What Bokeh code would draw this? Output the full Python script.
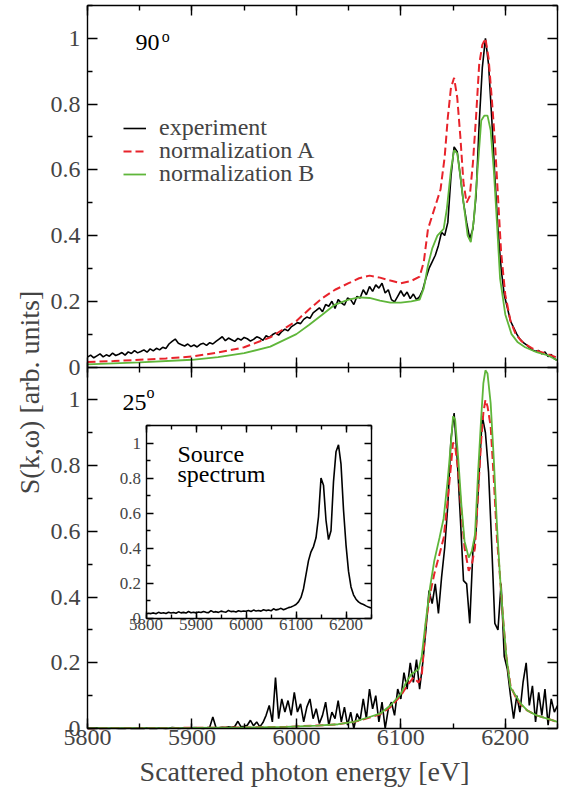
import math
from bokeh.plotting import figure
from bokeh.models import (Range1d, LinearAxis, FixedTicker, SingleIntervalTicker,
                          Legend, LegendItem, Label)
from bokeh.embed import file_html
from bokeh.resources import INLINE

FONT = "Liberation Serif"

# ---------------- data ----------------
# experiment sampling grid (eV)
exp_x = list(range(5800, 6251, 3))

top_exp = [
    0.030, 0.036, 0.028, 0.034, 0.040, 0.031, 0.037, 0.033, 0.042, 0.035, 0.039, 0.044, 0.036, 0.046, 0.041, 0.050, 0.043,
    0.047, 0.052, 0.045, 0.055, 0.049, 0.057, 0.052, 0.060, 0.056, 0.070, 0.078, 0.085, 0.072, 0.068,
    0.064, 0.070, 0.062, 0.067, 0.061, 0.069, 0.072, 0.066, 0.074, 0.070, 0.078, 0.085, 0.092, 0.080, 0.088, 0.083, 0.078, 0.087, 0.082, 0.090,
    0.086, 0.079, 0.084, 0.092, 0.088, 0.081, 0.095, 0.090, 0.098, 0.104, 0.097, 0.108, 0.115, 0.110, 0.122, 0.128, 0.135,
    0.132, 0.145, 0.152, 0.148, 0.165, 0.172, 0.180, 0.168, 0.190, 0.185, 0.200, 0.178, 0.205, 0.195, 0.188, 0.210,
    0.205, 0.190, 0.215, 0.210, 0.235, 0.220, 0.245, 0.230, 0.250, 0.240, 0.255, 0.225, 0.235, 0.205, 0.198, 0.215, 0.232,
    0.215, 0.228, 0.208, 0.222, 0.205, 0.214, 0.235, 0.270, 0.300, 0.320, 0.340, 0.370, 0.410, 0.400, 0.440, 0.580,
    0.670, 0.655, 0.580, 0.500, 0.440, 0.390, 0.420, 0.520, 0.740, 0.910, 1.000, 0.920, 0.760, 0.580, 0.420, 0.300, 0.220,
    0.180, 0.140, 0.120, 0.100, 0.085, 0.075, 0.068, 0.060, 0.052, 0.048, 0.050, 0.040, 0.046, 0.032, 0.038, 0.025, 0.020,
]

bot_exp = [
    0.0, 0.001, 0.0, 0.002, 0.0, 0.001, 0.0, 0.0, 0.002, 0.001, 0.0, 0.001, 0.0, 0.002, 0.0, 0.001, 0.0,
    0.001, 0.0, 0.002, 0.0, 0.001, 0.0, 0.002, 0.001, 0.0, 0.001, 0.003, 0.002, 0.0, 0.001,
    0.002, 0.0, 0.001, 0.003, 0.002, 0.001, 0.0, 0.002, 0.004, 0.035, 0.003, 0.002, 0.004, 0.003, 0.005, 0.004, 0.006, 0.022, 0.005, 0.007,
    0.010, 0.025, 0.008, 0.020, 0.005, 0.018, 0.040, 0.070, 0.020, 0.155, 0.030, 0.090, 0.050, 0.085, 0.040, 0.110, 0.050,
    0.075, 0.020, 0.065, 0.090, 0.030, 0.060, 0.015, 0.040, 0.080, 0.010, 0.050, 0.030, 0.085, 0.020, 0.065, 0.010,
    0.050, 0.0, 0.045, 0.025, 0.090, 0.030, 0.120, 0.060, 0.100, 0.020, 0.080, 0.0, 0.060, 0.080, 0.040, 0.120, 0.090,
    0.170, 0.120, 0.200, 0.140, 0.210, 0.120, 0.200, 0.300, 0.420, 0.380, 0.440, 0.350, 0.460, 0.550, 0.680, 0.880,
    0.960, 0.820, 0.640, 0.450, 0.440, 0.320, 0.540, 0.600, 0.780, 0.950, 0.900, 0.780, 0.560, 0.320, 0.300, 0.440, 0.220,
    0.180, 0.100, 0.030, 0.100, 0.050, 0.140, 0.200, 0.070, 0.130, 0.020, 0.110, 0.040, 0.120, 0.010, 0.090, 0.050, 0.070,
]

# 90 deg, normalization A
top_a_x = [5800, 5825, 5850, 5875, 5900, 5925, 5950, 5975, 6000, 6012, 6025, 6037, 6050, 6060, 6070, 6080,
           6090, 6100, 6110, 6118, 6122, 6126, 6130, 6134, 6138, 6142, 6145, 6148, 6151, 6154, 6157, 6160,
           6163, 6166, 6169, 6172, 6175, 6178, 6181, 6184, 6187, 6190, 6193, 6196, 6200, 6205, 6210, 6215,
           6220, 6225, 6230, 6240, 6250]
top_a_y = [0.015, 0.018, 0.022, 0.026, 0.032, 0.044, 0.060, 0.090, 0.140, 0.175, 0.210, 0.235, 0.255, 0.270, 0.278, 0.272,
           0.263, 0.255, 0.262, 0.275, 0.320, 0.420, 0.460, 0.500, 0.540, 0.640, 0.760, 0.850, 0.880, 0.820, 0.700, 0.560,
           0.500, 0.520, 0.620, 0.760, 0.920, 0.980, 1.000, 0.940, 0.820, 0.690, 0.520, 0.350, 0.220, 0.140, 0.100, 0.080,
           0.068, 0.058, 0.050, 0.040, 0.028]

# 90 deg, normalization B
top_b_x = [5800, 5850, 5900, 5925, 5950, 5975, 6000, 6012, 6025, 6037, 6050, 6060, 6070, 6080, 6090, 6100,
           6110, 6118, 6122, 6126, 6130, 6135, 6141, 6144, 6148, 6151, 6154, 6157, 6160, 6164, 6167, 6170,
           6173, 6177, 6180, 6183, 6186, 6189, 6192, 6195, 6200, 6206, 6212, 6219, 6230, 6241, 6250]
top_b_y = [0.008, 0.014, 0.022, 0.030, 0.042, 0.062, 0.100, 0.128, 0.160, 0.190, 0.205, 0.212, 0.210, 0.202, 0.196, 0.196,
           0.200, 0.205, 0.240, 0.310, 0.360, 0.400, 0.420, 0.480, 0.600, 0.660, 0.650, 0.580, 0.500, 0.400, 0.380, 0.450,
           0.580, 0.750, 0.765, 0.765, 0.720, 0.600, 0.440, 0.270, 0.160, 0.100, 0.075, 0.060, 0.045, 0.035, 0.020]

# 25 deg, normalization A
bot_a_x = [5800, 5900, 5950, 5990, 6020, 6040, 6055, 6070, 6080, 6090, 6100, 6106, 6112, 6117, 6120, 6124,
           6128, 6132, 6137, 6141, 6145, 6148, 6150, 6152, 6155, 6158, 6161, 6165, 6168, 6171, 6174, 6177,
           6179, 6181, 6183, 6186, 6189, 6192, 6195, 6198, 6201, 6205, 6210, 6215, 6221, 6230, 6240, 6250]
bot_a_y = [0.001, 0.002, 0.003, 0.005, 0.009, 0.013, 0.020, 0.033, 0.043, 0.065, 0.100, 0.130, 0.155, 0.140, 0.160, 0.320,
           0.410, 0.470, 0.530, 0.580, 0.700, 0.800, 0.870, 0.860, 0.780, 0.660, 0.550, 0.480, 0.500, 0.550, 0.720, 0.880,
           0.960, 1.000, 0.980, 0.920, 0.760, 0.580, 0.460, 0.330, 0.220, 0.130, 0.095, 0.072, 0.055, 0.040, 0.030, 0.020]

# 25 deg, normalization B
bot_b_x = [5800, 5900, 5950, 5990, 6020, 6040, 6055, 6070, 6080, 6090, 6100, 6105, 6110, 6117, 6120, 6124,
           6128, 6132, 6137, 6141, 6145, 6148, 6150, 6152, 6155, 6158, 6161, 6165, 6168, 6171, 6174, 6177,
           6179, 6181, 6183, 6186, 6189, 6192, 6195, 6198, 6201, 6205, 6210, 6215, 6221, 6230, 6240, 6250]
bot_b_y = [0.001, 0.002, 0.003, 0.005, 0.009, 0.013, 0.020, 0.035, 0.045, 0.070, 0.105, 0.140, 0.165, 0.180, 0.220, 0.330,
           0.430, 0.510, 0.580, 0.640, 0.760, 0.870, 0.950, 0.940, 0.820, 0.680, 0.570, 0.520, 0.540, 0.590, 0.780, 0.950,
           1.050, 1.090, 1.080, 0.990, 0.820, 0.620, 0.460, 0.330, 0.220, 0.125, 0.100, 0.075, 0.055, 0.040, 0.030, 0.020]

# inset: source spectrum
src_x = list(range(5800, 6251, 5))
src_y = [
    0.025, 0.030, 0.028, 0.032, 0.027, 0.035, 0.030, 0.033, 0.029, 0.036, 0.031, 0.034, 0.030, 0.038, 0.032, 0.035, 0.031, 0.040, 0.033, 0.036,
    0.032, 0.037, 0.034, 0.040, 0.035, 0.033, 0.045, 0.036, 0.039, 0.035, 0.042, 0.038, 0.036, 0.046, 0.039, 0.041, 0.037, 0.044, 0.040, 0.043,
    0.041, 0.045, 0.040, 0.048, 0.043, 0.046, 0.042, 0.050, 0.045, 0.048, 0.044, 0.055, 0.049, 0.052, 0.058, 0.050, 0.056, 0.062, 0.066, 0.072,
    0.080, 0.095, 0.120, 0.170, 0.250, 0.330, 0.380, 0.410, 0.460, 0.580, 0.800, 0.760, 0.560, 0.450, 0.500, 0.780, 0.950, 0.990, 0.880, 0.620,
    0.420, 0.270, 0.180, 0.135, 0.110, 0.095, 0.085, 0.080, 0.072, 0.065, 0.060,
]

y_major = [0.0, 0.2, 0.4, 0.6, 0.8, 1.0]
y_labels = ["0", "0.2", "0.4", "0.6", "0.8", "1"]
y_minor = [0.1, 0.3, 0.5, 0.7, 0.9]
legend_labels = ["experiment", "normalization A", "normalization B"]

BLACK = "#000000"
RED = "#e8232b"
GREEN = "#5fb63a"

# ---------------- figure ----------------
# The plot frame covers the whole canvas; the panels' frames are drawn by axes
# placed with fixed_location, so that every text lies inside the frame.
p = figure(width=562, height=791, output_backend="svg", toolbar_location=None,
           x_range=Range1d(5716.702, 6254.787), y_range=Range1d(-0.19170, 2.21522),
           x_axis_location=None, y_axis_location=None, min_border=0,
           min_border_left=0, min_border_right=0, min_border_top=0, min_border_bottom=0)
p.outline_line_color = None
p.grid.visible = False
p.background_fill_color = "white"
p.border_fill_color = "white"

p.extra_y_ranges = {"top": Range1d(-1.29170, 1.11522), "iy": Range1d(-0.98604, 3.52237)}
p.extra_x_ranges = {"ix": Range1d(5509, 6633)}

XB = (5800, 6250)
# main y ticks: bottom panel 0..1, top panel offset by 1.1 on the shared scale
ticks = [round(t, 4) for t in y_major + [v + 1.1 for v in y_major]]
minors = [round(v, 4) for v in y_minor + [m + 1.1 for m in y_minor] + [2.2]]
overrides = {t: lab for t, lab in zip(ticks, y_labels + y_labels)}
yticker = FixedTicker(ticks=ticks, minor_ticks=minors)
xticker = SingleIntervalTicker(interval=100, num_minor_ticks=2)


def style(ax, size="24px", tin=10, mtin=5, tout=0, mtout=0, lw=1.4, labels=True, standoff=5):
    ax.axis_line_width = lw
    ax.major_tick_line_width = lw
    ax.minor_tick_line_width = lw
    ax.major_tick_in = tin
    ax.major_tick_out = tout
    ax.minor_tick_in = mtin
    ax.minor_tick_out = mtout
    ax.major_label_text_font = FONT
    ax.major_label_text_font_size = size if labels else "0px"
    ax.major_label_standoff = standoff
    ax.axis_line_color = "black"
    ax.major_tick_line_color = "black"
    ax.minor_tick_line_color = "black"
    return ax


p.add_layout(style(LinearAxis(ticker=yticker, major_label_overrides=overrides,
                              fixed_location=5800, bounds=(0, 2.2)), standoff=7), "left")
p.add_layout(style(LinearAxis(ticker=yticker, fixed_location=6250, bounds=(0, 2.2)),
                   labels=False), "right")
p.add_layout(style(LinearAxis(ticker=xticker, fixed_location=0, bounds=XB), standoff=1), "below")
p.add_layout(style(LinearAxis(ticker=xticker, fixed_location=2.2, bounds=XB), labels=False), "above")
p.add_layout(style(LinearAxis(ticker=xticker, fixed_location=1.1, bounds=XB), labels=False,
                   tout=10, mtout=5), "below")

# inset axes
iy_ticker = FixedTicker(ticks=y_major, minor_ticks=y_minor + [1.1])
iy_over = dict(zip(y_major, y_labels))
ix_ticker = SingleIntervalTicker(interval=100, num_minor_ticks=2)
kw = dict(x_range_name="ix", y_range_name="iy")
p.add_layout(style(LinearAxis(ticker=iy_ticker, major_label_overrides=iy_over, fixed_location=5800,
                              bounds=(0, 1.1), **kw), size="17px", tin=7, mtin=4, standoff=5), "left")
p.add_layout(style(LinearAxis(ticker=iy_ticker, fixed_location=6250, bounds=(0, 1.1), **kw),
                   labels=False, tin=7, mtin=4), "right")
p.add_layout(style(LinearAxis(ticker=ix_ticker, fixed_location=0, bounds=XB, **kw),
                   size="17px", tin=7, mtin=4, standoff=1), "below")
p.add_layout(style(LinearAxis(ticker=ix_ticker, fixed_location=1.1, bounds=XB, **kw),
                   labels=False, tin=7, mtin=4), "above")

# ---------------- curves ----------------
r_exp = p.line(exp_x, top_exp, y_range_name="top", line_color=BLACK, line_width=1.6)
r_a = p.line(top_a_x, top_a_y, y_range_name="top", line_color=RED, line_width=2, line_dash="8 4")
r_b = p.line(top_b_x, top_b_y, y_range_name="top", line_color=GREEN, line_width=1.8)

p.line(exp_x, bot_exp, line_color=BLACK, line_width=1.6)
p.line(bot_a_x, bot_a_y, line_color=RED, line_width=2, line_dash="8 4")
p.line(bot_b_x, bot_b_y, line_color=GREEN, line_width=1.8)

p.line(src_x, src_y, x_range_name="ix", y_range_name="iy", line_color=BLACK, line_width=1.6)

# ---------------- legend (one entry per row, stacked tightly) ----------------
for rend, lab, vy in zip([r_exp, r_a, r_b], legend_labels, [650, 627, 604]):
    p.add_layout(Legend(items=[LegendItem(label=lab, renderers=[rend])],
                        location=(123, vy), padding=0, margin=0, spacing=0,
                        glyph_width=23, glyph_height=20, label_height=20, label_standoff=13,
                        label_text_font=FONT, label_text_font_size="24px",
                        border_line_color=None, background_fill_alpha=0))

# ---------------- texts ----------------
def txt(text, x, y, size, **k):
    p.add_layout(Label(x=x, y=y, text=text, text_font=FONT, text_font_size=size,
                       text_baseline="alphabetic", text_color="black", **k))

txt("90", 5846, 0.987, "24px", y_range_name="top")
txt("o", 5871, 1.005, "16px", y_range_name="top")
txt("25", 5833.5, 0.993, "24px")
txt("o", 5856.5, 1.022, "16px")
txt("Source", 5863, 0.936, "24px", x_range_name="ix", y_range_name="iy")
txt("spectrum", 5863, 0.822, "24px", x_range_name="ix", y_range_name="iy")

p.add_layout(Label(x=6007.8, y=-0.131, text="Scattered photon energy [eV]", text_font=FONT,
                   text_font_size="28px", text_align="center", text_baseline="alphabetic"))
p.add_layout(Label(x=5744.5, y=1.0224, text="S(k,\u03c9) [arb. units]", text_font=FONT,
                   text_font_size="28px", text_align="center", text_baseline="middle",
                   angle=math.pi / 2))

open("out.html", "w").write(file_html(p, INLINE))
